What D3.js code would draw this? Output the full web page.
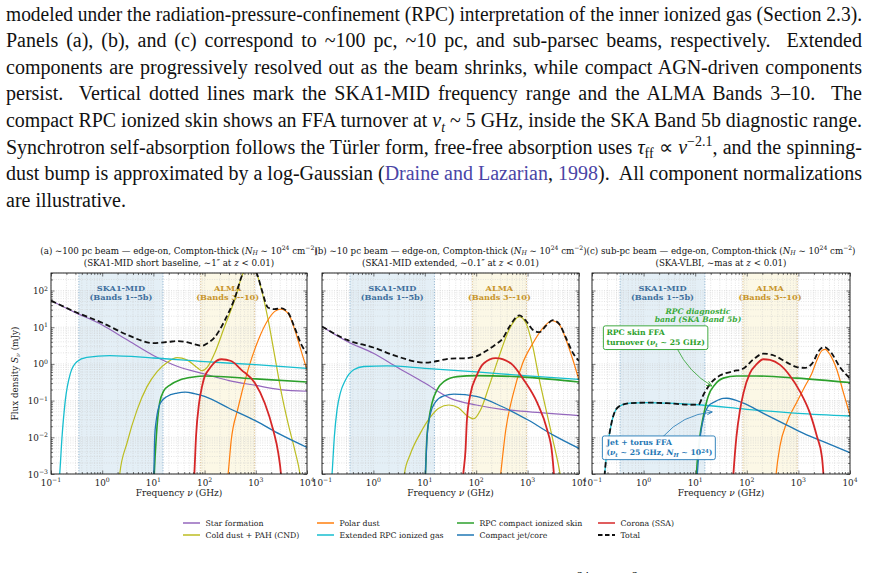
<!DOCTYPE html>
<html><head><meta charset="utf-8">
<script src="https://cdn.jsdelivr.net/npm/d3@7"></script>
<style>
body{margin:0;background:#fff;}
svg{display:block;}
</style></head><body>
<script>
// values: frequency in GHz, flux density in mJy
const freqDecades = [0.1, 1, 10, 100, 1000, 10000];
const fluxDecades = [0.001, 0.01, 0.1, 1, 10, 100];
const xTickExp = ["−1", "0", "1", "2", "3", "4"];
const yTickExp = ["−3", "−2", "−1", "0", "1", "2"];
const fluxMax = 300;
const skaRange = [0.35, 15.4];
const almaRange = [84, 950];

// panel (a) ~100 pc
const starFormA = [[0.1,53],[0.3,25],[1,11.5],[3,4.6],[10,1.7],[30,0.85],[100,0.53],[300,0.35],[1000,0.26],[3000,0.2],[10000,0.18]];
const coldDustA = [[2.1,0.0005],[2.2,0.001],[3.05,0.007],[4.8,0.056],[7.5,0.24],[11.7,0.61],[18.5,1.09],[29,1.48],[45,1.29],[71,0.8],[89,0.65],[112,0.8],[157,1.95],[246,10.5],[388,56],[565,295],[730,420],[1020,300],[1290,104],[1740,16],[2350,1.6],[3170,0.16],[4270,0.024],[5770,0.0045],[7300,0.001],[8000,0.0004]];
const polarDustA = [[260,0.0003],[288,0.001],[330,0.008],[446,0.06],[705,0.69],[1120,4.5],[1740,16],[2350,27],[3100,31],[4270,24],[5770,8.5],[7900,2],[10000,0.69]];
const extRpcA = [[0.14,0.0004],[0.148,0.001],[0.164,0.01],[0.19,0.1],[0.24,0.56],[0.32,1.15],[0.5,1.5],[1.4,1.68],[10,1.45],[100,1.15],[1000,0.95],[10000,0.76]];
const rpcSkinA = [[10.2,0.0005],[10.4,0.001],[11.4,0.0105],[13.2,0.085],[15.8,0.18],[21.4,0.27],[33.6,0.37],[61,0.44],[100,0.47],[1000,0.39],[10000,0.32]];
const jetA = [[10,0.0005],[10.2,0.001],[10.6,0.0105],[11.4,0.03],[13.6,0.085],[18.5,0.13],[29,0.16],[42,0.17],[63,0.155],[100,0.13],[300,0.062],[1000,0.028],[3000,0.012],[10000,0.0053]];
const coronaA = [[60,0.0004],[63,0.001],[68,0.0105],[78,0.085],[89,0.24],[100,0.45],[120,0.69],[150,1.04],[213,1.34],[330,1.2],[522,0.69],[960,0.3],[1500,0.085],[2180,0.016],[2760,0.0036],[3100,0.001],[3300,0.0003]];
const totalA = [[0.1,53],[0.3,26],[1,13.2],[3,6.3],[10,3.7],[20,4.0],[30,4.2],[45,3.9],[65,3.4],[89,3.1],[112,3.6],[157,5.3],[246,15],[388,62],[565,300],[730,425],[1020,310],[1290,112],[1740,34],[2350,31],[3100,33],[4270,25],[5770,9.5],[7900,3.2],[10000,1.95]];

// panel (b) ~10 pc
const starFormB = [[0.1,10.5],[0.31,4.1],[1,1.95],[2.9,0.81],[10,0.3],[31.6,0.115],[100,0.076],[316,0.058],[1000,0.05],[10000,0.039]];
const coldDustB = [[3.8,0.0005],[4.0,0.001],[5.2,0.0034],[8.2,0.013],[12.9,0.036],[18.7,0.062],[29.4,0.076],[45,0.064],[67,0.038],[90,0.032],[122,0.056],[177,0.24],[278,1.58],[436,8.5],[690,19.5],[930,13],[1260,3],[1700,0.36],[2290,0.056],[3100,0.0085],[3900,0.002],[4300,0.001],[4800,0.0004]];
const polarDustB = [[280,0.0004],[300,0.001],[376,0.016],[510,0.13],[800,1.04],[1260,3.6],[1960,9.3],[3000,15],[4170,11.5],[5620,4.5],[7600,1.3],[10000,0.36]];
const extRpcB = [[0.15,0.0004],[0.157,0.001],[0.174,0.0105],[0.196,0.056],[0.227,0.16],[0.285,0.36],[0.414,0.69],[0.65,0.85],[1.85,0.88],[10,0.76],[100,0.61],[1000,0.47],[10000,0.38]];
const rpcSkinB = [[10.1,0.0005],[10.3,0.001],[10.9,0.008],[12,0.03],[13.8,0.085],[17.4,0.2],[23.4,0.33],[42.6,0.45],[100,0.48],[1000,0.43],[10000,0.32]];
const jetB = [[10.1,0.0005],[10.3,0.001],[11.1,0.0105],[12.9,0.045],[16.2,0.093],[23.4,0.135],[36.7,0.15],[100,0.13],[316,0.069],[1000,0.03],[3160,0.0115],[10000,0.005]];
const coronaB = [[53,0.0004],[56,0.001],[62,0.0045],[66,0.03],[78,0.16],[100,0.45],[141,1.04],[240,1.43],[470,1.04],[850,0.36],[1550,0.085],[2400,0.016],[3000,0.0036],[3250,0.001],[3400,0.0004]];
const totalB = [[0.1,10.5],[0.31,4.5],[1,2.8],[2.9,1.6],[10,1.08],[17.5,1.2],[31.6,1.4],[57,1.42],[100,1.6],[152,2.2],[240,3.4],[324,4.8],[436,10],[690,21],[930,15],[1260,8.5],[1700,7.3],[2290,11],[3100,15.5],[4170,12],[5620,5],[7600,2],[10000,1.2]];

// panel (c) sub-pc
const polarDustC = [[350,0.0004],[370,0.001],[442,0.006],[595,0.025],[930,0.09],[1350,0.25],[1820,0.55],[2300,1.3],[2850,2.3],[3300,2.5],[4130,1.76],[5560,0.69],[7500,0.16],[10000,0.04]];
const extRpcC = [[0.165,0.0003],[0.176,0.001],[0.205,0.007],[0.238,0.024],[0.277,0.05],[0.347,0.072],[0.54,0.085],[1.14,0.088],[2.8,0.085],[11.6,0.077],[100,0.058],[1000,0.045],[10000,0.038]];
const rpcSkinC = [[10.3,0.0004],[10.6,0.001],[12.3,0.0105],[14.3,0.036],[17.8,0.13],[24,0.27],[35,0.41],[63,0.47],[155,0.47],[933,0.41],[10000,0.31]];
const jetC = [[10.5,0.0004],[11,0.001],[12.5,0.01],[14.3,0.03],[17.8,0.07],[24,0.093],[35,0.115],[41,0.116],[86,0.085],[209,0.045],[510,0.024],[1260,0.0128],[3050,0.0076],[10000,0.0038]];
const coronaC = [[52,0.0003],[55,0.001],[63,0.0105],[74,0.056],[86,0.16],[115,0.56],[155,0.98],[209,1.34],[282,1.29],[442,0.94],[690,0.47],[1075,0.176],[1680,0.045],[2290,0.0105],[2850,0.003],[3050,0.001],[3200,0.0003]];
const totalC = [[0.165,0.0003],[0.176,0.001],[0.205,0.007],[0.238,0.024],[0.277,0.05],[0.347,0.072],[0.54,0.085],[1.14,0.088],[2.8,0.085],[8,0.077],[11.6,0.078],[14.3,0.14],[19.3,0.28],[30,0.48],[55,0.63],[86,0.75],[134,1.33],[209,1.9],[327,1.72],[595,1.1],[933,0.82],[1350,0.78],[1820,1.0],[2630,2.5],[3200,2.9],[4130,2.2],[6450,0.8],[10000,0.4]];

const components = [
  {key:"sf",   label:"Star formation",           color:"#9467bd", w:1.2},
  {key:"cd",   label:"Cold dust + PAH (CND)",    color:"#bcbd22", w:1.2},
  {key:"pd",   label:"Polar dust",               color:"#ff7f0e", w:1.2},
  {key:"ext",  label:"Extended RPC ionized gas", color:"#17becf", w:1.3},
  {key:"skin", label:"RPC compact ionized skin", color:"#2ca02c", w:1.6},
  {key:"jet",  label:"Compact jet/core",         color:"#1f77b4", w:1.3},
  {key:"cor",  label:"Corona (SSA)",             color:"#d62728", w:1.8},
  {key:"tot",  label:"Total",                    color:"#111111", w:1.8, dash:"5.5,3"}
];

const panels = [
  {x0:51, x1:307, yLabels:true,
   t1:"(a) ∼100 pc beam — edge-on, Compton-thick (%N%_[H] ∼ 10^{24} cm^{−2})",
   t2:"(SKA1-MID short baseline, ∼1″ at %z% < 0.01)",
   series:{sf:starFormA, cd:coldDustA, pd:polarDustA, ext:extRpcA, skin:rpcSkinA, jet:jetA, cor:coronaA, tot:totalA}},
  {x0:322, x1:579, yLabels:false,
   t1:"(b) ∼10 pc beam — edge-on, Compton-thick (%N%_[H] ∼ 10^{24} cm^{−2})",
   t2:"(SKA1-MID extended, ∼0.1″ at %z% < 0.01)",
   series:{sf:starFormB, cd:coldDustB, pd:polarDustB, ext:extRpcB, skin:rpcSkinB, jet:jetB, cor:coronaB, tot:totalB}},
  {x0:592, x1:850, yLabels:false,
   t1:"(c) sub-pc beam — edge-on, Compton-thick (%N%_[H] ∼ 10^{24} cm^{−2})",
   t2:"(SKA-VLBI, ∼mas at %z% < 0.01)",
   series:{pd:polarDustC, ext:extRpcC, skin:rpcSkinC, jet:jetC, cor:coronaC, tot:totalC}}
];

const caption = [
  "modeled under the radiation-pressure-confinement (RPC) interpretation of the inner ionized gas (Section 2.3).",
  "Panels (a), (b), and (c) correspond to ~100 pc, ~10 pc, and sub-parsec beams, respectively.  Extended",
  "components are progressively resolved out as the beam shrinks, while compact AGN-driven components",
  "persist.  Vertical dotted lines mark the SKA1-MID frequency range and the ALMA Bands 3–10.  The",
  "compact RPC ionized skin shows an FFA turnover at %ν%_[t] ~ 5 GHz, inside the SKA Band 5b diagnostic range.",
  "Synchrotron self-absorption follows the Türler form, free-free absorption uses %τ%_{ff} ∝ %ν%^{−2.1}, and the spinning-",
  "dust bump is approximated by a log-Gaussian (@Draine and Lazarian@, @1998@).  All component normalizations",
  "are illustrative."
];

const W = 870, H = 573;
const plotTop = 273, plotBottom = 474;
const figFont = "DejaVu Serif";
const linkColor = "#4a45a6";

const svg = d3.select("body").append("svg").attr("width", W).attr("height", H)
  .style("background", "#fff");
const defs = svg.append("defs");

// small markup: ^{sup} _{sub} _[italic sub] %italic% @link@
function rich(sel, str, fs) {
  let parts = str.split(/(\^\{[^}]*\}|_\{[^}]*\}|_\[[^\]]*\]|%[^%]*%|@[^@]*@)/).filter(s => s.length);
  let shift = 0;
  parts.forEach(s => {
    let t = s, pos = 0, it = false, col = null;
    if (s.startsWith("^{")) { t = s.slice(2, -1); pos = -0.38 * fs; }
    else if (s.startsWith("_{")) { t = s.slice(2, -1); pos = 0.22 * fs; }
    else if (s.startsWith("_[")) { t = s.slice(2, -1); pos = 0.22 * fs; it = true; }
    else if (s[0] == "%" && s.length > 1) { t = s.slice(1, -1); it = true; }
    else if (s[0] == "@" && s.length > 1) { t = s.slice(1, -1); col = linkColor; }
    let ts = sel.append("tspan").attr("dy", (pos - shift).toFixed(2)).text(t);
    shift = pos;
    if (pos != 0) ts.attr("font-size", (fs * 0.7) + "px");
    if (it) ts.attr("font-style", "italic");
    if (col) ts.attr("fill", col);
  });
}

// caption text above the figure
const capFs = 20;
caption.forEach((line, i) => {
  let t = svg.append("text").attr("x", 6).attr("y", 20.5 + i * 26.65)
    .attr("font-family", "Liberation Serif, Times New Roman, serif")
    .attr("font-size", capFs + "px").style("white-space", "pre").attr("fill", "#111");
  rich(t, line, capFs);
  if (i < caption.length - 1) {
    let w = t.node().getComputedTextLength();
    let target = 856;
    let spaces = (line.match(/ /g) || []).length;
    if (w < target) t.attr("word-spacing", ((target - w) / spaces).toFixed(2));
    else t.attr("textLength", target).attr("lengthAdjust", "spacingAndGlyphs");
  }
});

// the next caption line is cut off at the bottom, only superscripts show
svg.append("text").attr("x", 577).attr("y", 580).attr("font-family", "Liberation Serif, serif")
  .attr("font-size", "12px").text("24");
svg.append("text").attr("x", 632).attr("y", 580).attr("font-family", "Liberation Serif, serif")
  .attr("font-size", "12px").text("2");

// minor tick values
function minors(decades, maxV) {
  let out = [];
  decades.forEach(d => { for (let k = 2; k <= 9; k++) if (d * k <= maxV) out.push(d * k); });
  return out;
}
const xMinor = minors(freqDecades.slice(0, 5), 1e4);
const yMinor = minors(fluxDecades, fluxMax);

// arrowheads
function arrowMarker(id, color) {
  defs.append("marker").attr("id", id).attr("viewBox", "0 0 8 8").attr("refX", 7.5).attr("refY", 4)
    .attr("markerWidth", 6).attr("markerHeight", 6).attr("markerUnits", "userSpaceOnUse")
    .attr("orient", "auto")
    .append("path").attr("d", "M0.5,0.8 L7.5,4 L0.5,7.2").attr("fill", "none")
    .attr("stroke", color).attr("stroke-width", 1.1);
}
arrowMarker("arrGreen", "#2ca02c");
arrowMarker("arrBlue", "#1f77b4");

function drawPanel(p, idx) {
  const x = d3.scaleLog().domain([freqDecades[0], freqDecades[5]]).range([p.x0, p.x1]);
  const y = d3.scaleLog().domain([fluxDecades[0], fluxMax]).range([plotBottom, plotTop]);
  const g = svg.append("g").attr("font-family", figFont);

  defs.append("clipPath").attr("id", "clip" + idx).append("rect")
    .attr("x", p.x0).attr("y", plotTop).attr("width", p.x1 - p.x0).attr("height", plotBottom - plotTop);

  // bands
  g.append("rect").attr("x", x(skaRange[0])).attr("y", plotTop)
    .attr("width", x(skaRange[1]) - x(skaRange[0])).attr("height", plotBottom - plotTop)
    .attr("fill", "#e4eff6");
  g.append("rect").attr("x", x(almaRange[0])).attr("y", plotTop)
    .attr("width", x(almaRange[1]) - x(almaRange[0])).attr("height", plotBottom - plotTop)
    .attr("fill", "#fcf8e6");

  // grid
  const grid = g.append("g").attr("stroke", "#c8c8c8").attr("stroke-width", 0.5).attr("stroke-dasharray", "1,1.4");
  grid.selectAll(".gx").data(freqDecades.concat(xMinor)).join("line")
    .attr("x1", d => x(d)).attr("x2", d => x(d)).attr("y1", plotTop).attr("y2", plotBottom);
  grid.selectAll(".gy").data(fluxDecades.concat(yMinor)).join("line")
    .attr("y1", d => y(d)).attr("y2", d => y(d)).attr("x1", p.x0).attr("x2", p.x1);

  // band edges
  skaRange.forEach(v => g.append("line").attr("x1", x(v)).attr("x2", x(v)).attr("y1", plotTop).attr("y2", plotBottom)
    .attr("stroke", "#7ea6c6").attr("stroke-width", 0.8).attr("stroke-dasharray", "1.2,1.5"));
  almaRange.forEach(v => g.append("line").attr("x1", x(v)).attr("x2", x(v)).attr("y1", plotTop).attr("y2", plotBottom)
    .attr("stroke", "#d3b27c").attr("stroke-width", 0.8).attr("stroke-dasharray", "1.2,1.5"));

  // band labels
  const skaMid = Math.sqrt(skaRange[0] * skaRange[1]);
  const almaMid = Math.sqrt(almaRange[0] * almaRange[1]);
  [["SKA1-MID", 290.5], ["(Bands 1--5b)", 300]].forEach(l => g.append("text")
    .attr("x", x(skaMid)).attr("y", l[1]).attr("text-anchor", "middle").attr("font-size", "8.2px")
    .attr("font-weight", "bold").attr("fill", "#40709e").text(l[0]));
  [["ALMA", 290.5], ["(Bands 3--10)", 300]].forEach(l => g.append("text")
    .attr("x", x(almaMid)).attr("y", l[1]).attr("text-anchor", "middle").attr("font-size", "8.2px")
    .attr("font-weight", "bold").attr("fill", "#c8952c").text(l[0]));

  // curves
  const line = d3.line().x(d => x(d[0])).y(d => y(d[1])).curve(d3.curveMonotoneX);
  const cg = g.append("g").attr("clip-path", "url(#clip" + idx + ")");
  components.forEach(c => {
    const data = p.series[c.key];
    if (!data) return;
    cg.append("path").datum(data).attr("d", line).attr("fill", "none")
      .attr("stroke", c.color).attr("stroke-width", c.w)
      .attr("stroke-dasharray", c.dash || null).attr("stroke-linejoin", "round");
  });

  // axes with inward ticks on all sides
  const axes = [
    [d3.axisBottom(x), plotBottom, "x"], [d3.axisTop(x), plotTop, "x"],
    [d3.axisLeft(y), p.x0, "y"], [d3.axisRight(y), p.x1, "y"]
  ];
  axes.forEach(a => {
    const [ax, pos, dim] = a;
    const tr = dim == "x" ? `translate(0,${pos})` : `translate(${pos},0)`;
    const major = g.append("g").attr("transform", tr)
      .call(ax.tickValues(dim == "x" ? freqDecades : fluxDecades).tickSize(-3.5).tickSizeOuter(0).tickFormat(""));
    major.select(".domain").remove();
    const axm = (dim == "x" ? (pos == plotBottom ? d3.axisBottom(x) : d3.axisTop(x))
                            : (pos == p.x0 ? d3.axisLeft(y) : d3.axisRight(y)));
    const minor = g.append("g").attr("transform", tr)
      .call(axm.tickValues(dim == "x" ? xMinor : yMinor).tickSize(-2).tickSizeOuter(0).tickFormat(""));
    minor.select(".domain").remove();
    g.selectAll(".tick line").attr("stroke", "#222").attr("stroke-width", 0.6);
  });

  g.append("rect").attr("x", p.x0).attr("y", plotTop).attr("width", p.x1 - p.x0)
    .attr("height", plotBottom - plotTop).attr("fill", "none").attr("stroke", "#111").attr("stroke-width", 0.9);

  // tick labels
  freqDecades.forEach((v, i) => {
    const t = g.append("text").attr("x", x(v)).attr("y", 485.5).attr("text-anchor", "middle")
      .attr("font-size", "8.8px").attr("fill", "#222");
    rich(t, "10^{" + xTickExp[i] + "}", 8.8);
  });
  if (p.yLabels) {
    fluxDecades.forEach((v, i) => {
      const t = g.append("text").attr("x", p.x0 - 3).attr("y", y(v) + 3.5).attr("text-anchor", "end")
        .attr("font-size", "8.8px").attr("fill", "#222");
      rich(t, "10^{" + yTickExp[i] + "}", 8.8);
    });
    const yl = g.append("text").attr("transform", `translate(18,${(plotTop + plotBottom) / 2}) rotate(-90)`)
      .attr("text-anchor", "middle").attr("font-size", "8.8px").attr("fill", "#222");
    rich(yl, "Flux density %S%_[ν] (mJy)", 8.8);
  }
  const xl = g.append("text").attr("x", (p.x0 + p.x1) / 2).attr("y", 496).attr("text-anchor", "middle")
    .attr("font-size", "9px").attr("fill", "#222");
  rich(xl, "Frequency %ν% (GHz)", 9);

  // titles
  [[p.t1, 253.5], [p.t2, 265.5]].forEach(l => {
    const t = g.append("text").attr("x", (p.x0 + p.x1) / 2).attr("y", l[1]).attr("text-anchor", "middle")
      .attr("font-size", "8.7px").attr("fill", "#111");
    rich(t, l[0], 8.7);
  });

  return {x, y, g};
}

const drawn = panels.map((p, i) => drawPanel(p, i));

// annotations in panel (c), placed in data coordinates
const skinNote = {lines:["RPC skin FFA", "turnover (%ν%_[t] ∼ 25 GHz)"], at:[0.19, 6.0], from:[4.4, 2.7], to:[21, 0.25], color:"#2ca02c", marker:"arrGreen", bend:0.15};
const jetNote = {lines:["Jet + torus FFA", "(%ν%_[t] ∼ 25 GHz, %N%_[H] ∼ 10^{24})"], at:[0.19, 0.006], from:[2.34, 0.0102], to:[21.4, 0.049], color:"#1f77b4", marker:"arrBlue", bend:-0.2};
const bandNote = {lines:["RPC diagnostic", "band (SKA Band 5b)"], at:[11.3, 23]};

(function() {
  const {x, y, g} = drawn[2];
  [skinNote, jetNote].forEach(n => {
    const x0 = x(n.from[0]), y0 = y(n.from[1]), x1 = x(n.to[0]), y1 = y(n.to[1]);
    const mx = (x0 + x1) / 2, my = (y0 + y1) / 2, dx = x1 - x0, dy = y1 - y0;
    const cx = mx + n.bend * (-dy), cy = my + n.bend * dx;
    g.append("path").attr("d", `M${x0},${y0} Q${cx},${cy} ${x1},${y1}`).attr("fill", "none")
      .attr("stroke", n.color).attr("stroke-width", 0.8).attr("marker-end", `url(#${n.marker})`);
  });
  [skinNote, jetNote].forEach(n => {
    const tg = g.append("g");
    const box = tg.append("rect");
    n.lines.forEach((l, i) => {
      const t = tg.append("text").attr("x", x(n.at[0])).attr("y", y(n.at[1]) + i * 10)
        .attr("font-size", "7.7px").attr("font-weight", "bold").attr("fill", n.color);
      rich(t, l, 7.7);
    });
    const bb = tg.node().getBBox();
    box.attr("x", bb.x - 3).attr("y", bb.y - 2.5).attr("width", bb.width + 6).attr("height", bb.height + 4)
      .attr("rx", 2).attr("fill", "#fff").attr("fill-opacity", 0.95).attr("stroke", n.color).attr("stroke-width", 0.9);
  });
  bandNote.lines.forEach((l, i) => g.append("text").attr("x", x(bandNote.at[0])).attr("y", y(bandNote.at[1]) + i * 8)
    .attr("text-anchor", "middle").attr("font-size", "7.6px").attr("font-style", "italic").attr("font-weight", "bold")
    .attr("fill", "#3aaa3a").text(l));
})();

// legend: 4 columns x 2 rows, filled column by column
const legCols = [183, 317, 457, 598];
const legRows = [523, 535];
const leg = svg.append("g").attr("font-family", figFont);
components.forEach((c, i) => {
  const lx = legCols[Math.floor(i / 2)], ly = legRows[i % 2];
  leg.append("line").attr("x1", lx).attr("x2", lx + 17).attr("y1", ly).attr("y2", ly)
    .attr("stroke", c.color).attr("stroke-width", c.key == "tot" ? 1.8 : 1.5).attr("stroke-dasharray", c.dash ? "4.5,2.5" : null);
  leg.append("text").attr("x", lx + 22.5).attr("y", ly + 2.8).attr("font-size", "7.8px").attr("fill", "#222").text(c.label);
});
</script>
</body></html>
